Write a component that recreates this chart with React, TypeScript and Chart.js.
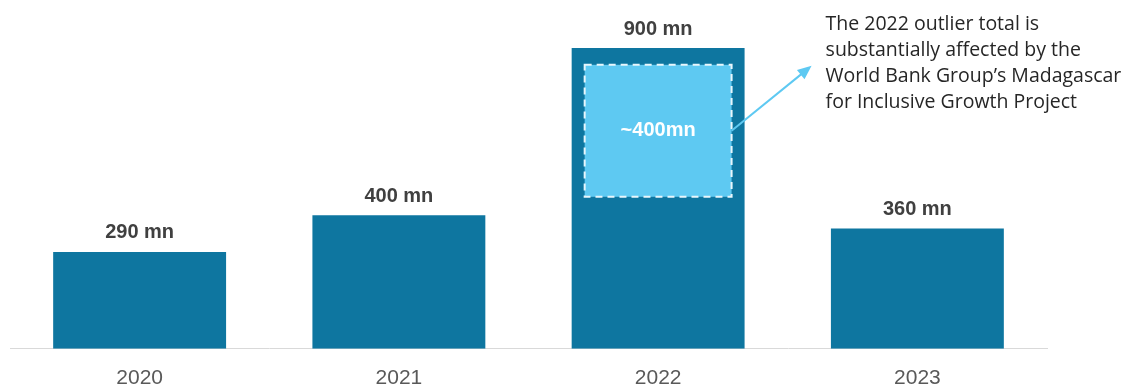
import React, { useEffect, useRef } from "react";
import { Chart, registerables } from "chart.js";

Chart.register(...registerables);

const years = ["2020", "2021", "2022", "2023"];
const totals = [290, 400, 900, 360];
const valueLabels = ["290 mn", "400 mn", "900 mn", "360 mn"];
const outlierYear = "2022";
const outlierRange = [455, 850];
const outlierLabel = "~400mn";
const noteLines = [
  "The 2022 outlier total is",
  "substantially affected by the",
  "World Bank Group\u2019s Madagascar",
  "for Inclusive Growth Project",
];

const BAR = "#0E76A0";
const LIGHT = "#5EC9F2";

const overlayPlugin = {
  id: "overlay",
  afterDatasetsDraw(chart: any) {
    const ctx = chart.ctx;
    const meta = chart.getDatasetMeta(0);
    const yScale = chart.scales.y;
    ctx.save();
    // value labels
    ctx.fillStyle = "#404040";
    ctx.font = "bold 20px 'Liberation Sans', Arial, sans-serif";
    ctx.textAlign = "center";
    ctx.textBaseline = "middle";
    meta.data.forEach((bar: any, i: number) => {
      ctx.fillText(valueLabels[i], bar.x, bar.y - 19);
    });
    // outlier box
    const idx = years.indexOf(outlierYear);
    const b: any = meta.data[idx];
    const inset = 13;
    const left = b.x - b.width / 2 + inset;
    const right = b.x + b.width / 2 - inset;
    const top = yScale.getPixelForValue(outlierRange[1]);
    const bottom = yScale.getPixelForValue(outlierRange[0]);
    ctx.fillStyle = LIGHT;
    ctx.fillRect(left, top, right - left, bottom - top);
    ctx.strokeStyle = "#E8F6FC";
    ctx.lineWidth = 2;
    ctx.setLineDash([7, 5]);
    ctx.strokeRect(left, top, right - left, bottom - top);
    ctx.setLineDash([]);
    const cy = (top + bottom) / 2;
    ctx.fillStyle = "#ffffff";
    ctx.font = "bold 20px 'Liberation Sans', Arial, sans-serif";
    ctx.fillText(outlierLabel, b.x, cy);
    // arrow
    const x0 = right, y0 = cy;
    const x1 = right + 80, y1 = top + 1;
    ctx.strokeStyle = LIGHT;
    ctx.lineWidth = 2;
    ctx.beginPath();
    ctx.moveTo(x0, y0);
    const ang = Math.atan2(y1 - y0, x1 - x0);
    ctx.lineTo(x1 - 8 * Math.cos(ang), y1 - 8 * Math.sin(ang));
    ctx.stroke();
    ctx.fillStyle = LIGHT;
    ctx.beginPath();
    ctx.moveTo(x1, y1);
    ctx.lineTo(x1 - 14 * Math.cos(ang) + 6 * Math.sin(ang), y1 - 14 * Math.sin(ang) - 6 * Math.cos(ang));
    ctx.lineTo(x1 - 14 * Math.cos(ang) - 6 * Math.sin(ang), y1 - 14 * Math.sin(ang) + 6 * Math.cos(ang));
    ctx.closePath();
    ctx.fill();
    // note
    ctx.fillStyle = "#262626";
    ctx.font = "19.5px 'Open Sans', sans-serif";
    ctx.textAlign = "left";
    noteLines.forEach((line, i) => {
      ctx.fillText(line, x1 + 14, 24 + i * 26);
    });
    ctx.restore();
  },
};

export default function App() {
  const ref = useRef<HTMLCanvasElement>(null);
  useEffect(() => {
    if (!ref.current) return;
    const chart = new Chart(ref.current, {
      type: "bar",
      data: {
        labels: years,
        datasets: [
          {
            data: totals,
            backgroundColor: BAR,
            barPercentage: 0.667,
            categoryPercentage: 1,
          },
        ],
      },
      options: {
        animation: false,
        responsive: false,
        maintainAspectRatio: false,
        layout: { padding: { left: 10, right: 84, top: 0, bottom: -24 } },
        plugins: { legend: { display: false }, tooltip: { enabled: false } },
        scales: {
          x: {
            grid: { display: false, drawTicks: false },
            border: { display: true, color: "#D9D9D9", width: 1 },
            ticks: {
              color: "#595959",
              padding: 17,
              font: { size: 21, family: "'Liberation Sans', Arial, sans-serif" },
            },
          },
          y: {
            display: false,
            min: 0,
            max: 1044,
          },
        },
      },
      plugins: [overlayPlugin],
    });
    return () => chart.destroy();
  }, []);
  return (
    <div style={{ position: "fixed", left: 0, top: 0, width: 1131, height: 384, background: "#fff" }}>
      <canvas ref={ref} width={1131} height={384} />
    </div>
  );
}
